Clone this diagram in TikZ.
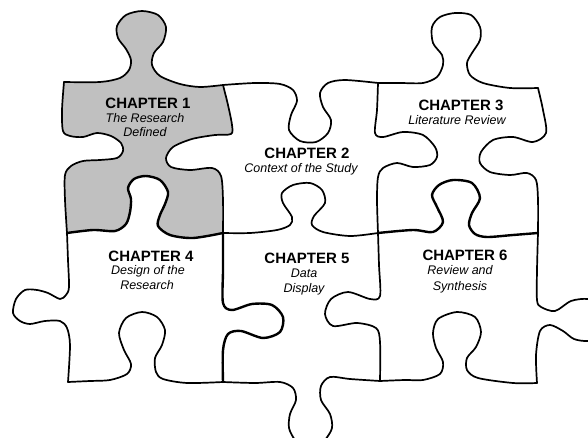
\documentclass[tikz,border=0pt]{standalone}
\usepackage{fontspec}
\setmainfont{Liberation Sans}
\definecolor{piecegray}{RGB}{192,192,192}
\tikzset{
  edge/.style={line width=1.7pt, line join=round, line cap=round},
  heavy/.style={edge, line width=2.4pt},
  chap/.style={anchor=base, inner sep=0pt, font=\fontsize{15}{18}\selectfont\bfseries},
  sub/.style={anchor=base, inner sep=0pt, font=\fontsize{12.5}{15}\selectfont\itshape}
}
\begin{document}
\begin{tikzpicture}[x=1pt,y=-1pt]
\useasboundingbox (0,0) rectangle (588,438);
\fill[white] (0,0) rectangle (588,438);
\clip (0,0) rectangle (588,438);

% gray fill of chapter 1 piece
\fill[piecegray]
  plot[smooth] coordinates {(64,82) (100,82) (120,78) (129,70) (131,60) (126,49) (118,38) (117,26) (126,15) (142,11) (158,15) (166,27) (163,42) (154,53) (152,65) (160,76) (180,84) (200,87) (223,85)}
  -- plot[smooth] coordinates {(223,85) (228,105) (232,125) (231,134) (215,135) (192,139) (173,147) (166,158) (171,167) (190,170) (212,168) (221,176) (223,200) (223,233)}
  -- plot[smooth] coordinates {(223,233) (193,238) (170,235) (158,226) (160,215) (165,204) (168,192) (160,180) (146,176) (134,179) (128,188) (131,199) (130,212) (126,224) (115,231) (93,230) (67,233)}
  -- plot[smooth] coordinates {(67,233) (65,200) (65,175) (71,166) (83,161) (100,160) (117,158) (123,151) (121,143) (111,136) (97,133) (83,137) (70,136) (63,131) (62,110) (64,82)}
  -- cycle;

% top edges
\draw[edge] plot[smooth] coordinates {(64,82) (100,82) (120,78) (129,70) (131,60) (126,49) (118,38) (117,26) (126,15) (142,11) (158,15) (166,27) (163,42) (154,53) (152,65) (160,76) (180,84) (200,87) (223,85)};
\draw[edge] plot[smooth] coordinates {(223,85) (255,83) (280,84) (293,90) (297,101) (291,115) (289,130) (300,141) (316,142) (328,133) (331,120) (323,107) (320,93) (328,83) (345,80) (378,83)};
\draw[edge] plot[smooth] coordinates {(378,83) (400,83) (423,83) (437,77) (443,65) (442,55) (433,43) (432,27) (440,17) (455,13) (471,15) (480,27) (480,40) (472,53) (467,63) (470,75) (483,83) (510,88) (538,88)};

% top-row vertical edges
\draw[edge] plot[smooth] coordinates {(64,82) (62,110) (63,131) (70,136) (83,137) (97,133) (111,136) (121,143) (123,151) (117,158) (100,160) (83,161) (71,166) (65,175) (65,200) (67,233)};
\draw[edge] plot[smooth] coordinates {(223,85) (228,105) (232,125) (231,134) (215,135) (192,139) (173,147) (166,158) (171,167) (190,170) (212,168) (221,176) (223,200) (223,233)};
\draw[edge] plot[smooth] coordinates {(378,83) (377,110) (375,133) (383,137) (403,132) (423,135) (435,147) (437,157) (430,165) (413,167) (397,163) (383,168) (378,177) (377,200) (378,233)};
\draw[edge] plot[smooth] coordinates {(538,88) (543,110) (546,133) (533,142) (513,137) (493,140) (481,152) (480,163) (490,172) (510,175) (527,173) (536,180) (538,200) (538,233)};

% middle horizontal edges
\draw[heavy] plot[smooth] coordinates {(223,233) (193,238) (170,235) (158,226) (160,215) (165,204) (168,192) (160,180) (146,176) (134,179) (128,188) (131,199) (130,212) (126,224) (115,231) (93,230) (67,233)};
\draw[edge] plot[smooth] coordinates {(223,233) (250,233) (277,230) (290,225) (292,217) (283,203) (282,193) (293,185) (310,183) (322,190) (325,203) (314,216) (312,225) (323,232) (350,236) (378,233)};
\draw[heavy] plot[smooth] coordinates {(378,233) (413,230) (433,232) (443,222) (437,207) (432,195) (439,185) (453,180) (472,183) (480,198) (472,213) (469,225) (475,234) (487,237) (513,235) (538,233)};

% bottom-row vertical edges
\draw[edge] plot[smooth] coordinates {(67,233) (68,260) (69,287) (66,295) (60,299) (48,293) (37,290) (25,290) (16,299) (13,313) (20,321) (30,324) (45,321) (60,321) (67,328) (70,345) (68,382)};
\draw[heavy] plot[smooth] coordinates {(223,233) (223,270) (223,303) (232,310) (252,304) (272,305) (283,317) (280,332) (263,338) (241,331) (228,334) (223,350) (223,382)};
\draw[edge] plot[smooth] coordinates {(378,233) (379,265) (380,296) (370,299) (348,292) (331,299) (325,314) (333,326) (357,323) (376,328) (380,342) (380,381)};
\draw[edge] plot[smooth] coordinates {(538,233) (537,270) (537,300) (541,307) (555,311) (571,301) (588,299) (605,305) (612,320) (605,337) (588,341) (574,339) (563,331) (550,325) (540,331) (536,355) (537,383)};

% bottom edges
\draw[edge] plot[smooth] coordinates {(68,382) (90,381) (110,380) (127,374) (131,364) (124,350) (119,333) (126,318) (142,312) (157,317) (165,330) (162,345) (155,358) (156,372) (163,379) (187,383) (223,382)};
\draw[edge] plot[smooth] coordinates {(223,382) (255,383) (280,382) (293,388) (296,400) (290,414) (289,428) (295,440) (305,450) (315,450) (325,440) (332,428) (330,414) (321,400) (321,386) (330,377) (350,379) (380,381)};
\draw[edge] plot[smooth] coordinates {(380,381) (405,380) (423,380) (440,374) (443,362) (436,348) (433,333) (438,319) (457,312) (475,317) (481,332) (476,347) (467,358) (467,370) (478,378) (513,383) (537,383)};

% texts
\node[chap] (c1) at (148,109) {CHAPTER 1};
\node[sub] (c1a) at (145,123) {The Research};
\node[sub] (c1b) at (145,137) {Defined};

\node[chap] (c2) at (307,159) {CHAPTER 2};
\node[sub] (c2a) at (301,173) {Context of the Study};

\node[chap] (c3) at (461,111) {CHAPTER 3};
\node[sub] (c3a) at (457,125) {Literature Review};

\node[chap] (c4) at (151,261) {CHAPTER 4};
\node[sub] (c4a) at (148,274) {Design of the};
\node[sub] (c4b) at (147,289) {Research};

\node[chap] (c5) at (307,263) {CHAPTER 5};
\node[sub] (c5a) at (304,277) {Data};
\node[sub] (c5b) at (304,292) {Display};

\node[chap] (c6) at (465,260) {CHAPTER 6};
\node[sub] (c6a) at (460,274) {Review and};
\node[sub] (c6b) at (460,290) {Synthesis};
\end{tikzpicture}
\end{document}
